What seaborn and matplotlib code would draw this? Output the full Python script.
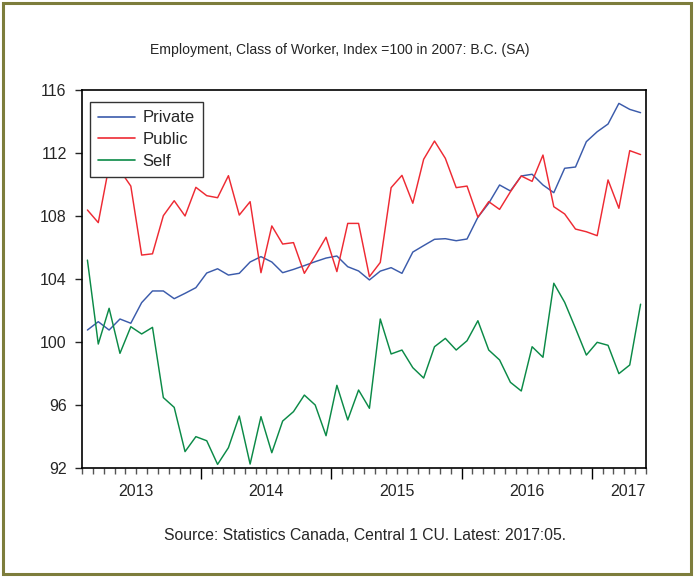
import numpy as np
import pandas as pd
import matplotlib
matplotlib.use("Agg")
import matplotlib.pyplot as plt
import matplotlib.transforms as mtransforms
from matplotlib.patches import Rectangle
import seaborn as sns

# ---- data (monthly, 2013:02 .. 2017:05) ----
months = pd.period_range("2013-02", "2017-05", freq="M").astype(str).tolist()

private = [100.76, 101.29, 100.76, 101.46, 101.19, 102.50, 103.24, 103.24, 102.75, 103.09,
           103.45, 104.38, 104.65, 104.25, 104.36, 105.08, 105.42, 105.08, 104.40, 104.61,
           104.85, 105.10, 105.33, 105.46, 104.78, 104.51, 103.94, 104.50, 104.72, 104.36,
           105.71, 106.12, 106.52, 106.56, 106.43, 106.54, 107.92, 108.81, 109.97, 109.59,
           110.54, 110.65, 109.97, 109.48, 111.03, 111.11, 112.72, 113.35, 113.84, 115.15,
           114.77, 114.56]
public = [108.38, 107.58, 111.20, 110.90, 109.90, 105.52, 105.60, 108.02, 108.97, 108.00,
          109.82, 109.29, 109.16, 110.56, 108.06, 108.91, 104.40, 107.37, 106.22, 106.31,
          104.36, 105.48, 106.65, 104.47, 107.53, 107.53, 104.15, 105.05, 109.80, 110.58,
          108.81, 111.60, 112.76, 111.66, 109.80, 109.90, 107.92, 108.91, 108.42, 109.54,
          110.54, 110.20, 111.87, 108.59, 108.13, 107.17, 107.00, 106.75, 110.29, 108.49,
          112.15, 111.90]
self_emp = [105.20, 99.87, 102.14, 99.28, 100.97, 100.51, 100.93, 96.47, 95.85, 93.04,
            93.99, 93.73, 92.23, 93.29, 95.30, 92.25, 95.26, 92.97, 94.98, 95.58,
            96.63, 96.00, 94.05, 97.25, 95.05, 96.95, 95.79, 101.46, 99.24, 99.49,
            98.37, 97.71, 99.70, 100.23, 99.49, 100.08, 101.35, 99.49, 98.86, 97.44,
            96.89, 99.70, 99.03, 103.73, 102.52, 100.87, 99.17, 99.98, 99.79, 97.99,
            98.54, 102.40]

series_names = ["Private", "Public", "Self"]
year_labels = ["2013", "2014", "2015", "2016", "2017"]
y_ticks = [92, 96, 100, 104, 108, 112, 116]

title = "Employment, Class of Worker, Index =100 in 2007: B.C. (SA)"
source = "Source: Statistics Canada, Central 1 CU. Latest: 2017:05."

# ---- long-form table ----
idx = np.arange(len(months))
df = pd.DataFrame({
    "t": np.concatenate([idx, idx, idx]),
    "value": private + public + self_emp,
    "series": np.repeat(series_names, len(months)),
})

sns.set_style("ticks")
plt.rcParams["font.family"] = ["Liberation Sans", "DejaVu Sans"]

fig = plt.figure(figsize=(6.94, 5.77), dpi=100)
ax = fig.add_axes([82 / 694, 1 - 468 / 577, 564 / 694, 378 / 577])

palette = {"Private": "#3b5bab", "Public": "#ee2a33", "Self": "#0b8a47"}
sns.lineplot(data=df, x="t", y="value", hue="series", palette=palette,
             linewidth=1.05, ax=ax, legend=True)

n = len(months)
ax.set_xlim(-0.5, n - 0.5)
ax.set_ylim(92, 116)
ax.set_xlabel("")
ax.set_ylabel("")

# month slots: Jan of each year starts a major tick
first_month = int(months[0][5:7])
jan_pos = [i - 0.5 for i, m in enumerate(months) if m.endswith("-01")]
ax.set_xticks(jan_pos)
ax.set_xticklabels([])
ax.set_xticks(np.arange(n + 1) - 0.5, minor=True)
ax.tick_params(axis="x", which="major", length=8, width=1.0, color="black", direction="out")
ax.tick_params(axis="x", which="minor", length=4, width=1.0, color="#555555", direction="out")

ax.set_yticks(y_ticks)
ax.set_yticklabels([str(v) for v in y_ticks], fontsize=11.5)
ax.tick_params(axis="y", length=5, width=1.0, direction="out", pad=6)

for sp in ax.spines.values():
    sp.set_visible(True)
    sp.set_linewidth(1.2)
    sp.set_color("black")

# year labels centred on each year's span (last one kept inside the frame)
trans = mtransforms.blended_transform_factory(ax.transData, ax.transAxes)
year_start = [-1.5 - (first_month - 2)] + jan_pos
for k, lab in enumerate(year_labels):
    xc = year_start[k] + 6
    xc = min(xc, n - 2.2)
    ax.text(xc, -0.063, lab, transform=trans, ha="center", va="center", fontsize=11.5)

leg = ax.legend(loc="upper left", bbox_to_anchor=(0.0142, 0.968), frameon=True,
                fancybox=False, edgecolor="#333333", fontsize=12, handlelength=2.2,
                handletextpad=0.45, borderpad=0.5, labelspacing=0.40, framealpha=1,
                borderaxespad=0)
leg.get_frame().set_linewidth(1.0)
for line in leg.get_lines():
    line.set_linewidth(1.2)

fig.text(340 / 694, 1 - 50 / 577, title, ha="center", va="center", fontsize=10.1)
fig.text(365 / 694, 1 - 535 / 577, source, ha="center", va="center", fontsize=11.3)

fig.patches.append(Rectangle((0.004, 0.005), 0.992, 0.99, transform=fig.transFigure,
                             fill=False, edgecolor="#7d7d3c", linewidth=2.2))

fig.savefig("out.png", dpi=100)
